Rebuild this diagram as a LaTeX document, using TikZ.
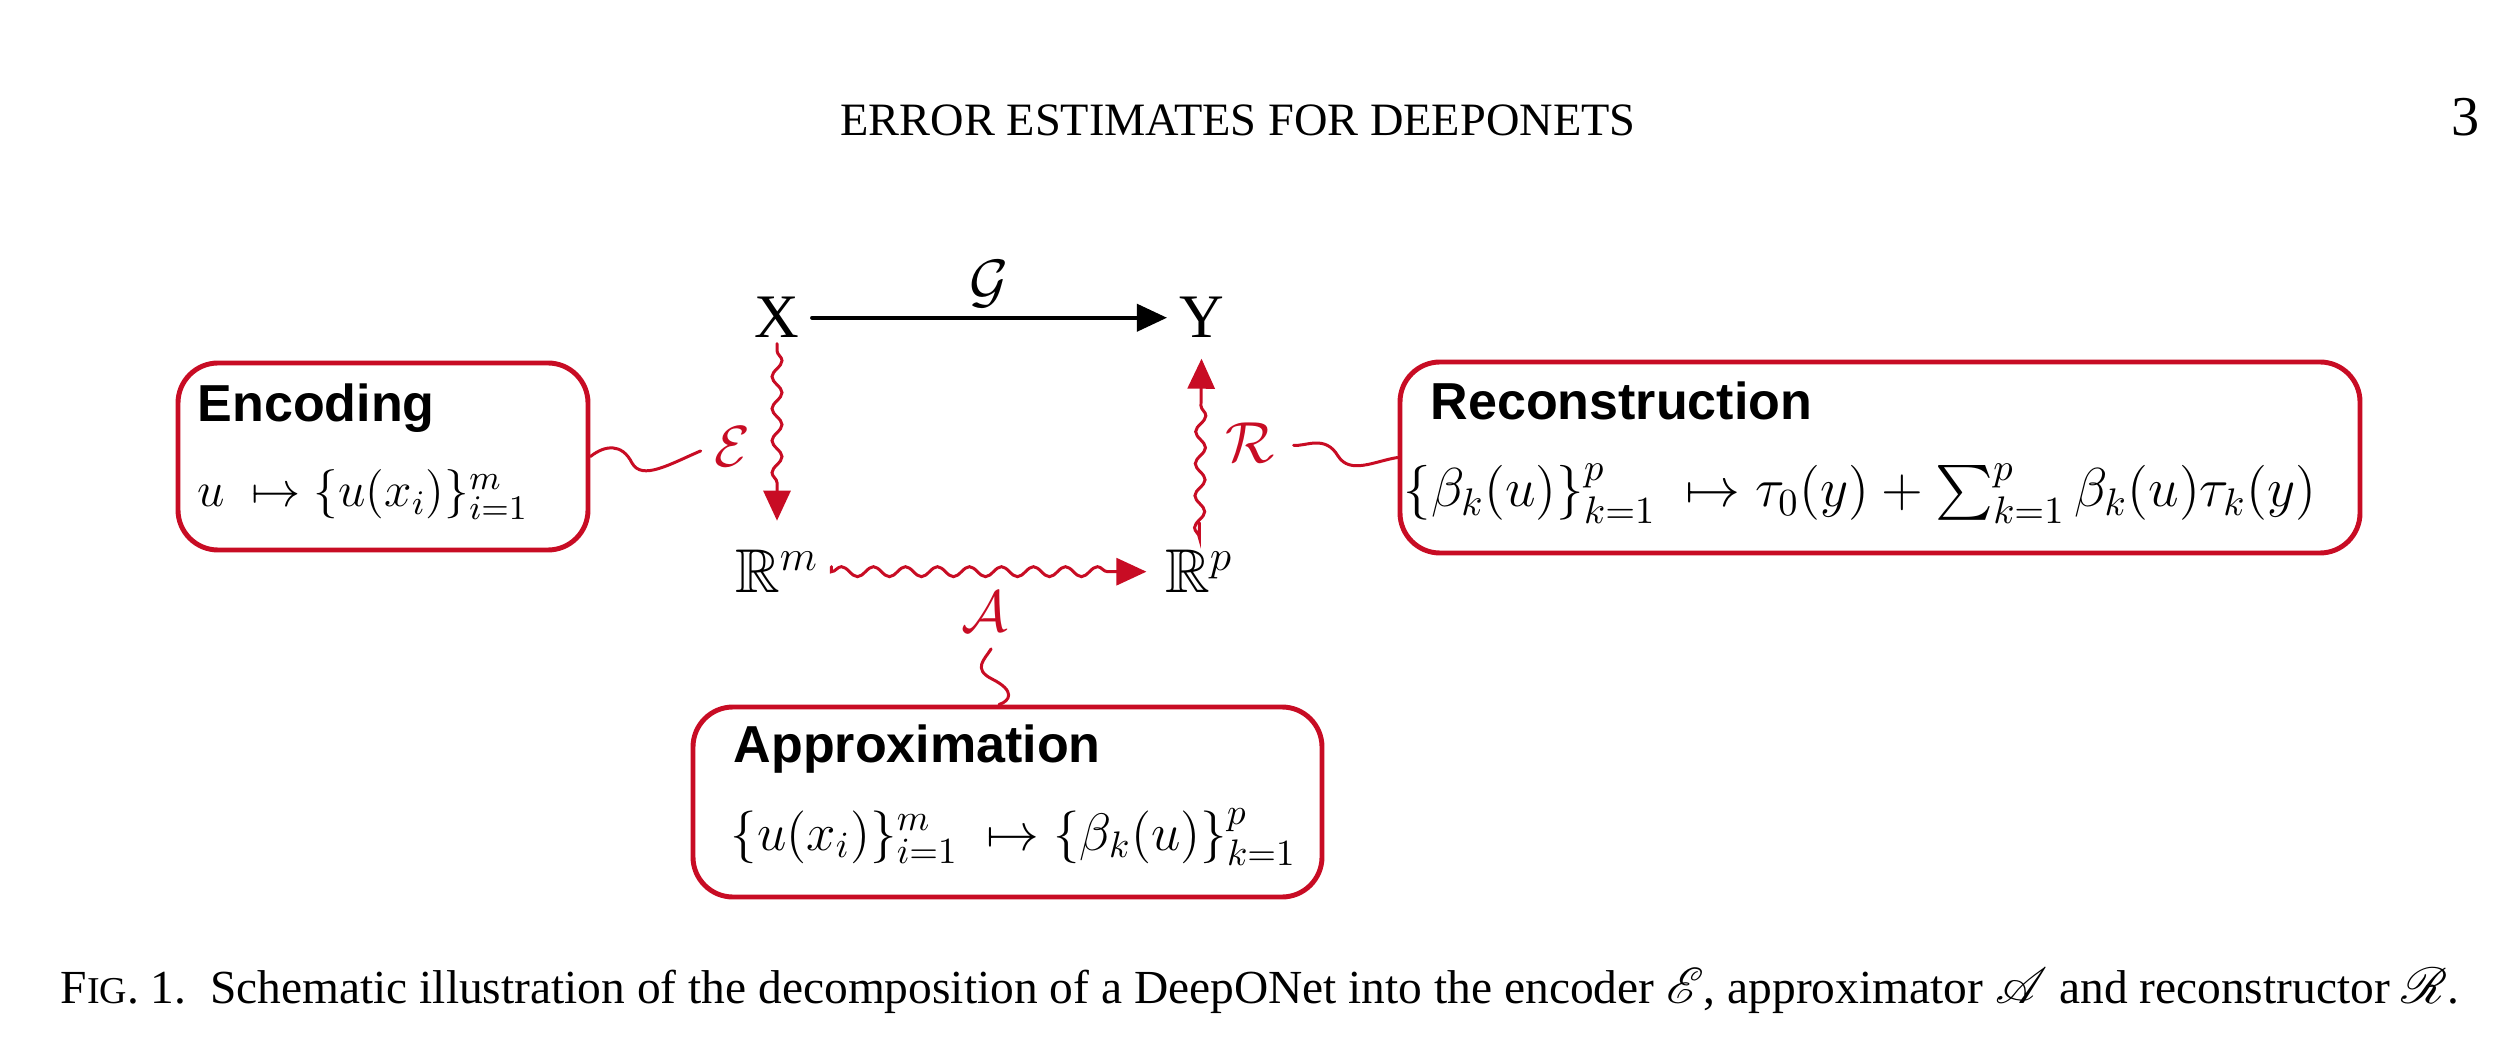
\RequirePackage{fix-cm}
\documentclass[tikz,border=0pt]{standalone}
\usepackage{amsmath,amssymb}
\usepackage{mathrsfs}
\usepackage[no-math]{fontspec}
\setmainfont{Liberation Serif}
\setsansfont{Liberation Sans}
\usetikzlibrary{arrows.meta,decorations.pathmorphing,positioning}
\definecolor{boxred}{RGB}{200,12,36}

\begin{document}
\begin{tikzpicture}[>={Triangle[length=3mm,width=2.7mm]}, line cap=round, scale=1,
  space/.style={inner sep=0.12cm, font=\fontsize{17.6}{21}\selectfont},
  lbl/.style={text=boxred, inner sep=1pt, font=\fontsize{16.5}{20}\selectfont},
  partbox/.style={draw=boxred, line width=1.4pt, rounded corners=0.4cm, inner sep=0pt},
  boxtitle/.style={anchor=base west, inner sep=0pt, font=\sffamily\bfseries\fontsize{14.8}{18}\selectfont},
  boxmath/.style={anchor=base west, inner sep=0pt, font=\fontsize{15}{18}\selectfont},
  wavy/.style={->, draw=boxred, line width=0.85pt, decorate,
    decoration={snake, amplitude=0.5mm, segment length=3.2mm, post length=4mm}},
  callout/.style={draw=boxred, line width=0.85pt}]

  \fill[white] (0,0) rectangle (25,10.59);
  \useasboundingbox (0,0) rectangle (25,10.59);

  % Running head
  \node[font=\fontsize{13.2}{16}\selectfont, anchor=base] (head) at (12.38,9.23) {ERROR ESTIMATES FOR DEEPONETS};
  \node[font=\fontsize{16}{19}\selectfont, anchor=base] (pageno) at (24.66,9.23) {3};

  % Spaces
  \node[space, anchor=base] (X) at (7.77,7.21) {X};
  \node[space, anchor=base] (Y) at (12.02,7.21) {Y};
  \node[space, anchor=base] (Rm) at (7.77,4.66) {$\mathbb{R}^m$};
  \node[space, anchor=base] (Rp) at (11.99,4.66) {$\mathbb{R}^p$};

  % Operator G
  \draw[->, line width=1.1pt] (X) -- (Y)
    node[midway, above=0.08cm, inner sep=0pt, font=\fontsize{17}{20}\selectfont] (lblG) {$\mathcal{G}$};

  % Encoder, approximator, reconstructor
  \draw[wavy, shorten <=0.07cm, shorten >=0.17cm] (X) -- (Rm);
  \draw[wavy, shorten <=0.05cm, shorten >=0.06cm] (Rm) -- (Rp);
  \draw[wavy, shorten <=0.15cm, shorten >=0.08cm] (Rp) -- (Y);

  \node[lbl] (lblE) at (7.32,6.12) {$\mathcal{E}$};
  \node[lbl] (lblR) at (12.50,6.16) {$\mathcal{R}$};
  \node[lbl] (lblA) at (9.85,4.47) {$\mathcal{A}$};

  % Boxes
  \node[partbox, minimum width=4.10cm, minimum height=1.87cm] (enc) at (3.83,6.025) {};
  \node[partbox, minimum width=9.60cm, minimum height=1.91cm] (rec) at (18.80,6.015) {};
  \node[partbox, minimum width=6.29cm, minimum height=1.90cm] (apx) at (10.075,2.57) {};

  \node[boxtitle] (encT) at (1.97,6.37) {Encoding};
  \node[boxmath, font=\fontsize{14}{18}\selectfont] (encM) at (1.97,5.52) {$u\ \mapsto\{u(x_i)\}_{i=1}^{m}$};

  \node[boxtitle] (recT) at (14.30,6.39) {Reconstruction};
  \node[boxmath, font=\fontsize{15.6}{18}\selectfont] (recM) at (14.03,5.52)
    {$\{\beta_k(u)\}_{k=1}^{p}\ \mapsto\tau_0(y)+\sum_{k=1}^{p}\beta_k(u)\tau_k(y)$};

  \node[boxtitle] (apxT) at (7.33,2.96) {Approximation};
  \node[boxmath] (apxM) at (7.30,2.09) {$\{u(x_i)\}_{i=1}^{m}\ \mapsto\{\beta_k(u)\}_{k=1}^{p}$};

  % Callout lines
  \draw[callout, shorten >=0.1cm] (enc.east) .. controls (6.05,6.14) and (6.22,6.16) .. (6.32,5.96)
    .. controls (6.42,5.78) and (6.70,5.95) .. (lblE.west);
  \draw[callout, shorten <=0.15cm] (lblR.east) .. controls (13.05,6.12) and (13.25,6.25) .. (13.38,6.03)
    .. controls (13.50,5.84) and (13.75,5.98) .. (rec.west);
  \draw[callout, shorten <=0.15cm] (lblA.-60) .. controls (9.85,4.00) and (9.72,3.90) .. (9.92,3.80)
    .. controls (10.16,3.68) and (10.10,3.58) .. (apx.95);

  % Caption
  \node[font=\fontsize{13.5}{16}\selectfont, anchor=base west, inner sep=0pt] (caption) at (0.60,0.56)
    {F{\fontsize{10.8}{16}\selectfont IG}. 1.\enspace Schematic illustration of the decomposition of a DeepONet into the encoder $\mathscr{E}$, approximator $\mathscr{A}$ and reconstructor $\mathscr{R}$.};

\end{tikzpicture}
\end{document}
